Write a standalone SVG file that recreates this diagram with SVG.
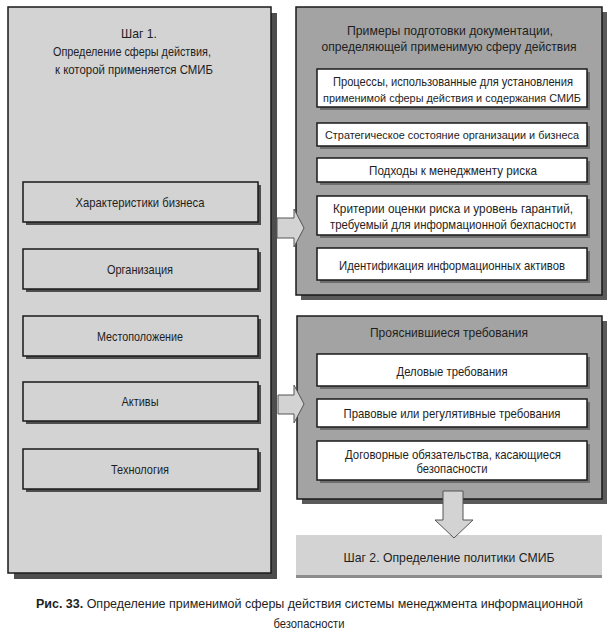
<svg xmlns="http://www.w3.org/2000/svg" width="614" height="639" viewBox="0 0 614 639">
<style>
text{font-family:"Liberation Sans Narrow","Liberation Sans",Arial,sans-serif;font-size:13px;fill:#1e1e1e;text-anchor:middle}
.cap{text-anchor:start}
.b{font-weight:bold}
.lbig{fill:#d3d3d3;stroke:#1a1a1a;stroke-width:1.5}
.lsh{fill:#4d4d4d}
.rbig{fill:#a3a3a3;stroke:#1a1a1a;stroke-width:1.5}
.rsh{fill:#5a5a5a}
.wbox{fill:#ffffff;stroke:#1a1a1a;stroke-width:1.5}
.wsh{fill:#6e6e6e}
.lbox{fill:#d3d3d3;stroke:#1a1a1a;stroke-width:1.5}
.arr{fill:#d3d3d3;stroke:#555;stroke-width:1}
.sm{font-size:11px}
</style>
<rect width="614" height="639" fill="#ffffff"/>

<g id="step1">
<rect class="lsh" x="14" y="13" width="263" height="566"/>
<rect class="lbig" x="8" y="7" width="263" height="566"/>
<text x="139" y="38" textLength="36" lengthAdjust="spacingAndGlyphs">Шаг 1.</text>
<text x="132" y="56" textLength="158" lengthAdjust="spacingAndGlyphs">Определение сферы действия,</text>
<text x="134" y="74" textLength="158" lengthAdjust="spacingAndGlyphs">к которой применяется СМИБ</text>
</g>

<g id="business">
<rect class="lsh" x="26" y="185" width="235" height="40"/>
<rect class="lbox" x="23" y="182" width="235" height="40"/>
<text x="140" y="207" textLength="129" lengthAdjust="spacingAndGlyphs">Характеристики бизнеса</text>
</g>
<g id="organization">
<rect class="lsh" x="26" y="252" width="235" height="40"/>
<rect class="lbox" x="23" y="249" width="235" height="40"/>
<text x="140" y="274" textLength="66" lengthAdjust="spacingAndGlyphs">Организация</text>
</g>
<g id="location">
<rect class="lsh" x="26" y="319" width="235" height="40"/>
<rect class="lbox" x="23" y="316" width="235" height="40"/>
<text x="140" y="341" textLength="86" lengthAdjust="spacingAndGlyphs">Местоположение</text>
</g>
<g id="assets">
<rect class="lsh" x="26" y="385" width="235" height="39"/>
<rect class="lbox" x="23" y="382" width="235" height="39"/>
<text x="140" y="406" textLength="37" lengthAdjust="spacingAndGlyphs">Активы</text>
</g>
<g id="technology">
<rect class="lsh" x="26" y="452" width="235" height="40"/>
<rect class="lbox" x="23" y="449" width="235" height="40"/>
<text x="140" y="474" textLength="58" lengthAdjust="spacingAndGlyphs">Технология</text>
</g>

<g id="docs">
<rect class="rsh" x="301" y="12" width="306" height="288"/>
<rect class="rbig" x="296" y="7" width="306" height="288"/>
<text x="450" y="35" textLength="206" lengthAdjust="spacingAndGlyphs">Примеры подготовки документации,</text>
<text x="449" y="51" textLength="255" lengthAdjust="spacingAndGlyphs">определяющей применимую сферу действия</text>
</g>
<g id="doc1">
<rect class="wsh" x="320" y="72" width="270" height="38"/>
<rect class="wbox" x="317" y="69" width="270" height="38"/>
<text x="453" y="86" textLength="240" lengthAdjust="spacingAndGlyphs">Процессы, использованные для установления</text>
<text class="sm" x="452" y="102" textLength="258" lengthAdjust="spacingAndGlyphs">применимой сферы действия и содержания СМИБ</text>
</g>
<g id="doc2">
<rect class="wsh" x="320" y="126" width="270" height="23"/>
<rect class="wbox" x="317" y="123" width="270" height="23"/>
<text class="sm" x="452" y="139" textLength="254" lengthAdjust="spacingAndGlyphs">Стратегическое состояние организации и бизнеса</text>
</g>
<g id="doc3">
<rect class="wsh" x="320" y="161" width="270" height="24"/>
<rect class="wbox" x="317" y="158" width="270" height="24"/>
<text x="453" y="175" textLength="168" lengthAdjust="spacingAndGlyphs">Подходы к менеджменту риска</text>
</g>
<g id="doc4">
<rect class="wsh" x="320" y="199" width="270" height="39"/>
<rect class="wbox" x="317" y="196" width="270" height="39"/>
<text x="453" y="213" textLength="240" lengthAdjust="spacingAndGlyphs">Критерии оценки риска и уровень гарантий,</text>
<text x="453" y="229" textLength="246" lengthAdjust="spacingAndGlyphs">требуемый для информационной бехпасности</text>
</g>
<g id="doc5">
<rect class="wsh" x="320" y="251" width="270" height="32"/>
<rect class="wbox" x="317" y="248" width="270" height="32"/>
<text x="452" y="270" textLength="226" lengthAdjust="spacingAndGlyphs">Идентификация информационных активов</text>
</g>

<g id="requirements">
<rect class="rsh" x="302" y="321" width="305" height="183"/>
<rect class="rbig" x="297" y="316" width="305" height="183"/>
<text x="449" y="337" textLength="158" lengthAdjust="spacingAndGlyphs">Прояснившиеся требования</text>
</g>
<g id="req1">
<rect class="wsh" x="320" y="357" width="270" height="32"/>
<rect class="wbox" x="317" y="354" width="270" height="32"/>
<text x="452" y="376" textLength="111" lengthAdjust="spacingAndGlyphs">Деловые требования</text>
</g>
<g id="req2">
<rect class="wsh" x="320" y="402" width="270" height="28"/>
<rect class="wbox" x="317" y="399" width="270" height="28"/>
<text x="452" y="418" textLength="217" lengthAdjust="spacingAndGlyphs">Правовые или регулятивные требования</text>
</g>
<g id="req3">
<rect class="wsh" x="320" y="444" width="270" height="39"/>
<rect class="wbox" x="317" y="441" width="270" height="39"/>
<text x="453" y="459" textLength="216" lengthAdjust="spacingAndGlyphs">Договорные обязательства, касающиеся</text>
<text x="452" y="473" textLength="71" lengthAdjust="spacingAndGlyphs">безопасности</text>
</g>

<g id="step2">
<rect x="296" y="538" width="306" height="40" fill="#8c8c8c"/>
<rect x="296" y="535" width="306" height="40" fill="#d3d3d3"/>
<text x="449" y="562" textLength="211" lengthAdjust="spacingAndGlyphs">Шаг 2. Определение политики СМИБ</text>
</g>

<g id="connectors">
<path class="arr" d="M277,218 H294 V209 L304,228 L294,247 V238 H277 Z"/>
<path class="arr" d="M278,395 H294 V385 L304,404 L294,423 V414 H278 Z"/>
<path class="arr" d="M443,491 H463 V520 H473 L454,538 L435,520 H443 Z"/>
</g>

<g id="caption">
<text class="cap" x="36" y="608" textLength="547" lengthAdjust="spacingAndGlyphs"><tspan class="b">Рис. 33.</tspan> Определение применимой сферы действия системы менеджмента информационной</text>
<text x="309" y="628" textLength="71" lengthAdjust="spacingAndGlyphs">безопасности</text>
</g>
</svg>
